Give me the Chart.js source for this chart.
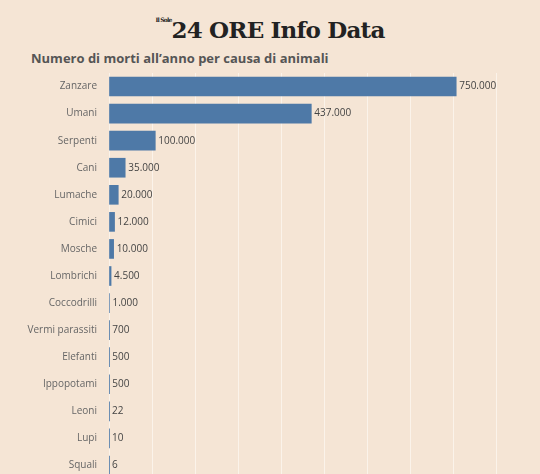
<!DOCTYPE html>
<html><head><meta charset="utf-8">
<script src="https://cdn.jsdelivr.net/npm/chart.js@4"></script>
<style>
html,body{margin:0;padding:0;width:540px;height:474px;overflow:hidden;background:#f5e5d5;}
#hdr{position:absolute;left:0;top:16px;width:540px;text-align:center;font-family:"DejaVu Serif",serif;font-weight:bold;font-size:23px;color:#222;letter-spacing:-0.8px}
#hdr small{font-size:6px;vertical-align:top}
#sub{position:absolute;left:31px;top:49px;font-family:"Open Sans",sans-serif;font-weight:bold;font-size:13px;color:#555}
#wrap{position:absolute;left:0;top:63px;width:540px;height:426px}
</style></head><body>
<div id="hdr"><small>Il Sole</small>24 ORE Info Data</div>
<div id="sub">Numero di morti all’anno per causa di animali</div>
<div id="wrap"><canvas id="c"></canvas></div>
<script>
const categories=["Zanzare","Umani","Serpenti","Cani","Lumache","Cimici","Mosche","Lombrichi","Coccodrilli","Vermi parassiti","Elefanti","Ippopotami","Leoni","Lupi","Squali"];
const deaths=[750000,437000,100000,35000,20000,12000,10000,4500,1000,700,500,500,22,10,6];
const valueLabels=["750.000","437.000","100.000","35.000","20.000","12.000","10.000","4.500","1.000","700","500","500","22","10","6"];
const labelPlugin={id:"vl",afterDatasetsDraw(ch){const ctx=ch.ctx;const m=ch.getDatasetMeta(0);ctx.save();ctx.font="10px 'Open Sans', sans-serif";ctx.fillStyle="#444";ctx.textBaseline="middle";m.data.forEach((b,i)=>{ctx.fillText(valueLabels[i],b.x+3,b.y);});ctx.restore();}};
new Chart(document.getElementById("c"),{type:"bar",
data:{labels:categories,datasets:[{data:deaths,backgroundColor:"#4e79a7",borderWidth:0,barThickness:19}]},
options:{indexAxis:"y",responsive:true,maintainAspectRatio:false,animation:false,
layout:{padding:0},
plugins:{legend:{display:false},tooltip:{enabled:false}},
scales:{x:{min:0,max:931000,ticks:{display:false,stepSize:96000},border:{display:false},grid:{color:"#fbf3ea",lineWidth:1,drawTicks:false}},
y:{afterFit(s){s.width=109;},grid:{display:false},border:{display:false},ticks:{color:"#666",font:{size:10,family:"'Open Sans', sans-serif"},padding:4}}}}
,plugins:[labelPlugin]});
</script></body></html>
